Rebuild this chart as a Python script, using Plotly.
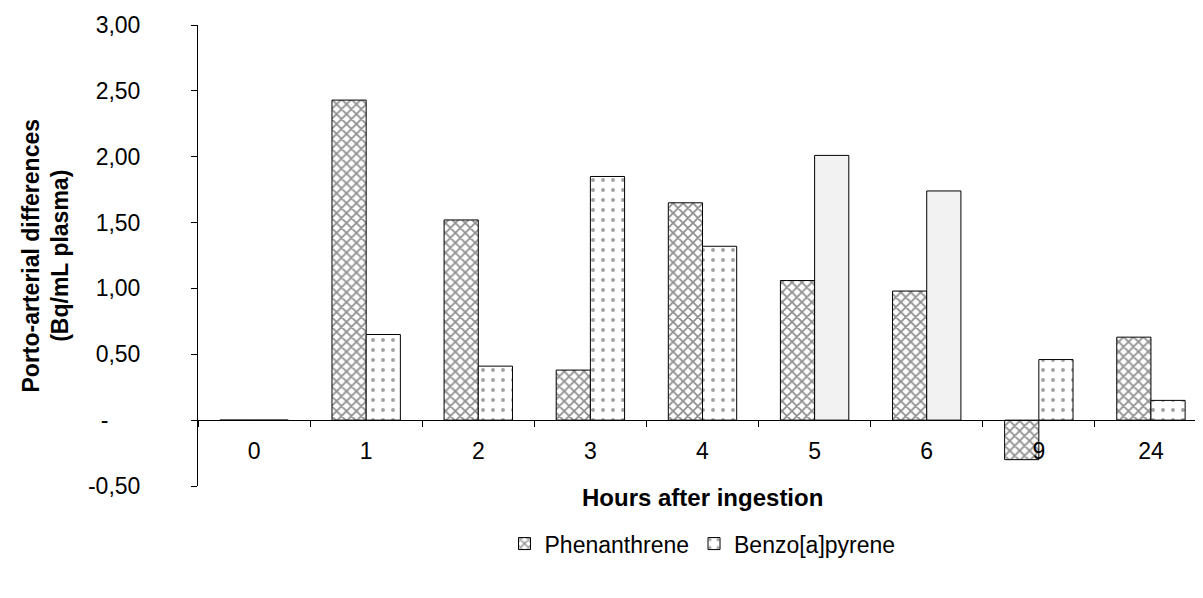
import plotly.graph_objects as go

hours = ["0", "1", "2", "3", "4", "5", "6", "9", "24"]
phenanthrene = [0, 2.43, 1.52, 0.38, 1.65, 1.06, 0.98, -0.30, 0.63]
benzo_a_pyrene = [0, 0.65, 0.41, 1.85, 1.32, 2.01, 1.74, 0.46, 0.15]
benzo_patterns = [".", ".", ".", ".", ".", "", "", ".", "."]
benzo_colors = ["white", "white", "white", "white", "white", "#f2f2f2", "#f2f2f2", "white", "white"]
y_tickvals = [-0.5, 0, 0.5, 1.0, 1.5, 2.0, 2.5, 3.0]
y_ticktext = ["-0,50", "-\u00a0\u00a0\u00a0\u00a0\u00a0", "0,50", "1,00", "1,50", "2,00", "2,50", "3,00"]

FONT = "Liberation Sans, Arial, sans-serif"
FS = 23

fig = go.Figure()
fig.add_trace(go.Bar(
    x=hours, y=phenanthrene, name="Phenanthrene",
    marker=dict(color="white", line=dict(color="black", width=1),
                pattern=dict(shape="x", fgcolor="#222222", size=7, solidity=0.45)),
))
fig.add_trace(go.Bar(
    x=hours, y=benzo_a_pyrene, name="Benzo[a]pyrene",
    marker=dict(color=benzo_colors, line=dict(color="black", width=1),
                pattern=dict(shape=benzo_patterns, fgcolor="#444444", size=10, solidity=0.12)),
))

fig.update_layout(
    width=1203, height=598,
    margin=dict(l=190, r=4, t=15, b=120),
    paper_bgcolor="white", plot_bgcolor="white",
    barmode="group", bargap=0.39, bargroupgap=0,
    font=dict(family=FONT, size=FS, color="black"),
    showlegend=True,
    legend=dict(orientation="h", x=0.5, xanchor="center", y=-0.125, yanchor="middle",
                font=dict(size=FS), itemwidth=30, traceorder="normal", tracegroupgap=0),
    xaxis=dict(type="category", anchor="free", position=0.5 / 3.5,
               showline=True, linecolor="black", linewidth=1,
               ticks="outside", ticklen=6, tickcolor="black", tickson="boundaries",
               showgrid=False, tickfont=dict(size=FS), ticklabelstandoff=10),
    yaxis=dict(range=[-0.5, 3.0], tickvals=y_tickvals, ticktext=y_ticktext,
               showline=True, linecolor="black", linewidth=1,
               ticks="outside", ticklen=6, tickcolor="black",
               showgrid=False, zeroline=False, tickfont=dict(size=FS),
               ticklabelstandoff=46),
    annotations=[
        dict(text="<b>Hours after ingestion</b>", xref="paper", yref="paper",
             x=0.5, y=-0.024, xanchor="center", yanchor="middle", showarrow=False,
             font=dict(size=FS + 1)),
        dict(text="<b>Porto-arterial differences<br>(Bq/mL plasma)</b>", xref="paper", yref="paper",
             x=(37 - 190) / 1009, y=0.5, xanchor="center", yanchor="middle",
             showarrow=False, textangle=-90, font=dict(size=FS)),
    ],
)

fig.write_html("out.html")
